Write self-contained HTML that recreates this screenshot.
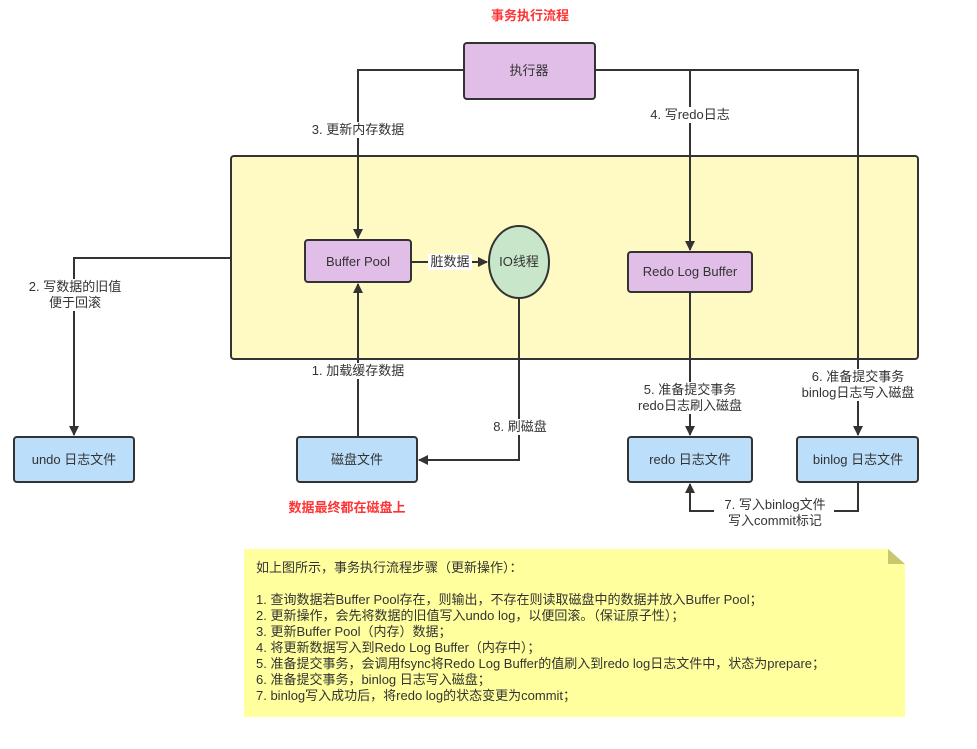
<!DOCTYPE html>
<html><head><meta charset="utf-8"><style>
html,body{margin:0;padding:0;background:#fff;width:977px;height:749px;overflow:hidden}
svg text{font-family:"Liberation Sans","Noto Sans CJK SC",sans-serif;font-size:13px;fill:#333}
.note{position:absolute;left:256px;top:560px;font-family:"Liberation Sans","Noto Sans CJK SC",sans-serif;font-size:13px;color:#333;line-height:16px;white-space:pre}
</style></head><body>
<svg width="977" height="749" style="position:absolute;left:0;top:0">
<defs><marker id="a" markerWidth="10" markerHeight="10" refX="9" refY="5" orient="auto" markerUnits="userSpaceOnUse"><path d="M0,0 L10,5 L0,10 Z" fill="#333"/></marker></defs>
<text x="530" y="20" text-anchor="middle" style="fill:#ff3333;font-weight:bold;font-size:13px">事务执行流程</text>
<rect x="231" y="156" width="687" height="203" rx="3" fill="#fff9c4" stroke="#333" stroke-width="2"/>
<g fill="none" stroke="#333" stroke-width="2">
<path d="M464,70 L358,70 L358,238" marker-end="url(#a)"/>
<path d="M595,70 L858,70 L858,435" marker-end="url(#a)"/>
<path d="M690,70 L690,250" marker-end="url(#a)"/>
<path d="M231,258 L74,258 L74,435" marker-end="url(#a)"/>
<path d="M358,437 L358,284" marker-end="url(#a)"/>
<path d="M411,262 L487,262" marker-end="url(#a)"/>
<path d="M519,298 L519,460 L419,460" marker-end="url(#a)"/>
<path d="M690,292 L690,435" marker-end="url(#a)"/>
<path d="M858,482 L858,511 L690,511 L690,484" marker-end="url(#a)"/>
</g>
<g fill="#fff">
<rect x="308" y="122" width="100" height="16"/>
<rect x="644" y="107" width="92" height="16"/>
<rect x="24" y="279" width="102" height="32"/>
<rect x="308" y="363" width="100" height="16"/>
<rect x="632" y="382" width="116" height="32"/>
<rect x="794" y="369" width="128" height="32"/>
<rect x="490" y="419" width="60" height="16"/>
<rect x="714" y="497" width="120" height="32"/>
<rect x="428" y="254" width="44" height="16"/>
</g>
<text x="358" y="134" text-anchor="middle">3. 更新内存数据</text>
<text x="690" y="119" text-anchor="middle">4. 写redo日志</text>
<text x="75" y="291" text-anchor="middle">2. 写数据的旧值</text>
<text x="75" y="307" text-anchor="middle">便于回滚</text>
<text x="358" y="375" text-anchor="middle">1. 加载缓存数据</text>
<text x="690" y="394" text-anchor="middle">5. 准备提交事务</text>
<text x="690" y="410" text-anchor="middle">redo日志刷入磁盘</text>
<text x="858" y="381" text-anchor="middle">6. 准备提交事务</text>
<text x="858" y="397" text-anchor="middle">binlog日志写入磁盘</text>
<text x="520" y="431" text-anchor="middle">8. 刷磁盘</text>
<text x="775" y="509" text-anchor="middle">7. 写入binlog文件</text>
<text x="775" y="525" text-anchor="middle">写入commit标记</text>
<text x="450" y="266" text-anchor="middle">脏数据</text>
<rect x="464" y="43" width="131" height="56" rx="3" fill="#e1bee7" stroke="#333" stroke-width="2"/>
<text x="529" y="75" text-anchor="middle">执行器</text>
<rect x="305" y="240" width="106" height="42" rx="3" fill="#e1bee7" stroke="#333" stroke-width="2"/>
<text x="358" y="266" text-anchor="middle">Buffer Pool</text>
<ellipse cx="519" cy="262" rx="30" ry="36" fill="#c8e6c9" stroke="#333" stroke-width="2"/>
<text x="519" y="266" text-anchor="middle">IO线程</text>
<rect x="628" y="252" width="124" height="40" rx="3" fill="#e1bee7" stroke="#333" stroke-width="2"/>
<text x="690" y="276" text-anchor="middle">Redo Log Buffer</text>
<rect x="14" y="437" width="120" height="45" rx="3" fill="#bbdefb" stroke="#333" stroke-width="2"/>
<text x="74" y="464" text-anchor="middle">undo 日志文件</text>
<rect x="297" y="437" width="120" height="45" rx="3" fill="#bbdefb" stroke="#333" stroke-width="2"/>
<text x="357" y="464" text-anchor="middle">磁盘文件</text>
<rect x="628" y="437" width="124" height="45" rx="3" fill="#bbdefb" stroke="#333" stroke-width="2"/>
<text x="690" y="464" text-anchor="middle">redo 日志文件</text>
<rect x="797" y="437" width="121" height="45" rx="3" fill="#bbdefb" stroke="#333" stroke-width="2"/>
<text x="858" y="464" text-anchor="middle">binlog 日志文件</text>
<text x="347" y="512" text-anchor="middle" style="fill:#ff3333;font-weight:bold;font-size:13px">数据最终都在磁盘上</text>
<path d="M244,549 L888,549 L905,564 L905,717 L244,717 Z" fill="#ffff9e"/>
<path d="M888,549 L905,564 L888,564 Z" fill="#c9c76e"/>
</svg>
<div class="note">如上图所示，事务执行流程步骤（更新操作）：

1. 查询数据若Buffer Pool存在，则输出，不存在则读取磁盘中的数据并放入Buffer Pool；
2. 更新操作，会先将数据的旧值写入undo log，以便回滚。（保证原子性）；
3. 更新Buffer Pool（内存）数据；
4. 将更新数据写入到Redo Log Buffer（内存中）；
5. 准备提交事务，会调用fsync将Redo Log Buffer的值刷入到redo log日志文件中，状态为prepare；
6. 准备提交事务，binlog 日志写入磁盘；
7. binlog写入成功后，将redo log的状态变更为commit；</div>
</body></html>
